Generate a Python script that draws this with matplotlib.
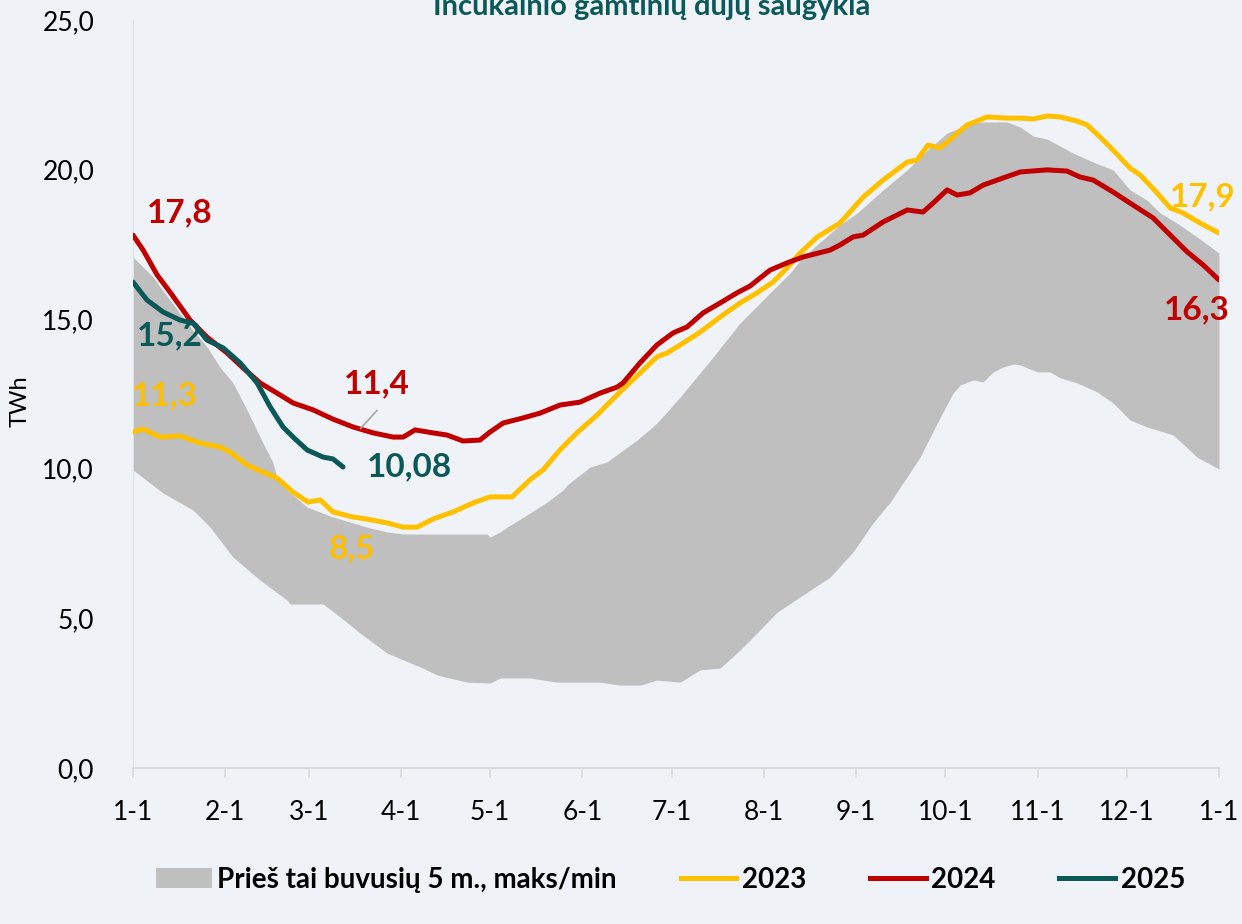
import matplotlib
matplotlib.use("Agg")
import matplotlib.pyplot as plt
import numpy as np
from matplotlib.ticker import FuncFormatter
from matplotlib.patches import Patch
from matplotlib.lines import Line2D

plt.rcParams['font.family'] = ['Lato', 'DejaVu Sans']

# day of year -> TWh
days_2023 = [0, 3.4, 9.1, 15.8, 22.5, 29.2, 32.6, 38.3, 42.7, 48.4, 53.8, 58.8, 62.9, 67.2,
             73.9, 78.7, 85.4, 90.8, 95.5, 100.8, 107.6, 114.3, 120, 127.4, 133.4, 137.8,
             143.5, 149.2, 156, 163.7, 170.4, 176.1, 179.5, 184.9, 190.6, 197.3, 204, 209.7,
             215.1, 219.8, 224.2, 230, 237.6, 245.4, 252.1, 260.2, 263.5, 267.2, 271.3, 275.6,
             280.3, 287.1, 293.8, 298.2, 302.5, 307.2, 311.6, 317.3, 320.7, 325, 329.4, 335.1,
             338.5, 344.2, 348.6, 352.9, 358.7, 365]
vals_2023 = [11.23, 11.33, 11.06, 11.10, 10.86, 10.73, 10.56, 10.13, 9.93, 9.69, 9.22, 8.89, 8.96, 8.56,
             8.39, 8.32, 8.19, 8.05, 8.05, 8.32, 8.56, 8.86, 9.06, 9.06, 9.63, 9.96,
             10.63, 11.20, 11.80, 12.57, 13.20, 13.74, 13.87, 14.20, 14.57, 15.07, 15.54, 15.88,
             16.24, 16.71, 17.21, 17.75, 18.21, 19.08, 19.65, 20.25, 20.32, 20.82, 20.72, 21.09,
             21.49, 21.76, 21.72, 21.72, 21.69, 21.79, 21.76, 21.62, 21.49, 21.09, 20.65, 20.05,
             19.82, 19.22, 18.72, 18.55, 18.21, 17.88]

days_2024 = [0, 3.4, 8.1, 12.4, 19.2, 24.9, 31.6, 37, 42.7, 48.4, 53.8, 60.5, 67.2, 73.9,
             80.7, 87.4, 90.8, 94.8, 100.8, 105.5, 110.9, 116.6, 120, 124.4, 131.1, 136.8,
             143.5, 150.3, 157, 162.7, 164.7, 170.4, 176.1, 181.5, 186.2, 191.6, 197.3, 203,
             207.4, 214.1, 219.8, 225.2, 234.3, 237.6, 242, 245.4, 252.1, 260.2, 265.5, 268.9,
             273.6, 277, 281.3, 285.7, 292.4, 298.2, 307.2, 313.9, 318.3, 322.7, 329.4, 335.1,
             342.9, 347.6, 354.3, 359.7, 365]
vals_2024 = [17.81, 17.31, 16.48, 15.91, 14.97, 14.40, 13.87, 13.37, 12.87, 12.53, 12.20, 11.97, 11.66, 11.40,
             11.20, 11.06, 11.06, 11.30, 11.20, 11.13, 10.93, 10.96, 11.23, 11.53, 11.70, 11.86,
             12.13, 12.23, 12.53, 12.73, 12.87, 13.54, 14.14, 14.54, 14.74, 15.21, 15.54, 15.88,
             16.11, 16.64, 16.88, 17.08, 17.31, 17.48, 17.75, 17.81, 18.25, 18.65, 18.58, 18.88,
             19.32, 19.15, 19.22, 19.48, 19.72, 19.92, 19.99, 19.95, 19.75, 19.65, 19.25, 18.88,
             18.38, 17.91, 17.25, 16.81, 16.31]

days_2025 = [0, 4.7, 10.1, 15.8, 20.2, 24.9, 30.3, 36, 41.7, 46.1, 50.4, 53.8, 58.5, 63.9, 67.2, 70.6]
vals_2025 = [16.24, 15.64, 15.24, 14.97, 14.87, 14.30, 14.04, 13.54, 12.87, 12.07, 11.40, 11.06,
             10.63, 10.39, 10.33, 10.06]

# previous 5 years max / min envelope
days_max = [0, 6.7, 12.4, 19.2, 24.9, 29.2, 33.6, 38.3, 42.7, 47.1, 48.4, 51.8, 58.5, 67.2,
            78.7, 85.4, 90.8, 119, 120, 123.4, 125.7, 133.4, 139.2, 144.5, 145.9, 153.6, 159.3,
            169.4, 176.1, 183.9, 195, 204, 214.1, 220.8, 225.2, 237.6, 243.4, 252.1, 260.2,
            266.9, 273.6, 280.3, 284.7, 293.8, 298.2, 302.5, 307.2, 316, 322.7, 329.4, 335.1,
            340.8, 345.2, 350.9, 357.6, 365]
vals_max = [17.08, 16.41, 15.64, 14.74, 14.07, 13.40, 12.87, 11.97, 11.06, 10.19, 9.69, 9.29, 8.72, 8.39,
            8.05, 7.89, 7.82, 7.82, 7.72, 7.89, 8.05, 8.52, 8.89, 9.29, 9.46, 10.06, 10.23,
            10.96, 11.53, 12.40, 13.74, 14.87, 15.88, 16.54, 17.08, 18.15, 18.55, 19.32, 19.99,
            20.65, 21.22, 21.49, 21.59, 21.59, 21.42, 21.12, 21.02, 20.55, 20.25, 19.99, 19.32,
            18.98, 18.55, 18.21, 17.75, 17.21]

days_min = [0, 10.1, 20.2, 25.9, 33.6, 42.7, 51.8, 52.8, 63.9, 69.6, 76.3, 85.4, 96.5, 102.2,
            112.3, 120, 123.4, 133.4, 142.5, 157, 163.7, 170.4, 176.1, 183.9, 190.6, 197.3,
            204, 209.7, 216.5, 224.2, 234.3, 242, 248.7, 254.5, 261.2, 264.5, 270.3, 275.6,
            278, 282.4, 285.7, 289.1, 292.4, 295.8, 298.2, 303.9, 308.2, 311.6, 317.3, 324,
            329.4, 335.1, 340.8, 349.6, 354.3, 357.6, 365]
vals_min = [9.96, 9.19, 8.62, 8.05, 7.05, 6.28, 5.61, 5.48, 5.48, 5.05, 4.51, 3.84, 3.38, 3.11,
            2.87, 2.84, 3.01, 3.01, 2.87, 2.87, 2.77, 2.77, 2.94, 2.87, 3.28, 3.34,
            3.94, 4.51, 5.21, 5.72, 6.38, 7.22, 8.19, 8.89, 9.89, 10.39, 11.53, 12.53,
            12.80, 12.97, 12.90, 13.24, 13.40, 13.50, 13.47, 13.24, 13.24, 13.04, 12.87, 12.57,
            12.20, 11.63, 11.40, 11.13, 10.70, 10.39, 9.99]

month_days = [0, 31, 59, 90, 120, 151, 181, 212, 243, 273, 304, 334, 365]
month_labels = ["1-1", "2-1", "3-1", "4-1", "5-1", "6-1", "7-1", "8-1", "9-1", "10-1", "11-1", "12-1", "1-1"]

BG = "#EFF3F7"
YELLOW = "#FFC000"
RED = "#C00000"
TEAL = "#0B5858"
GREY = "#BFBFBF"

fig = plt.figure(figsize=(12.42, 9.24), dpi=100, facecolor=BG)
ax = fig.add_axes([0.1071, 0.1688, 0.8744, 0.8096], facecolor=BG)

# envelope: fill between max and min on a common grid
grid = np.linspace(0, 365, 731)
up = np.interp(grid, days_max, vals_max)
lo = np.interp(grid, days_min, vals_min)
ax.fill_between(grid, lo, up, color=GREY, lw=0, zorder=1)

ax.plot(days_2023, vals_2023, color=YELLOW, lw=3.6, zorder=3, solid_capstyle="round")
ax.plot(days_2024, vals_2024, color=RED, lw=3.6, zorder=4, solid_capstyle="round")
ax.plot(days_2025, vals_2025, color=TEAL, lw=3.6, zorder=5, solid_capstyle="round")

ax.set_xlim(0, 365)
ax.set_ylim(0, 25)
ax.set_yticks([0, 5, 10, 15, 20, 25])
ax.yaxis.set_major_formatter(FuncFormatter(lambda v, p: f"{v:.1f}".replace(".", ",")))
ax.set_xticks(month_days)
ax.set_xticklabels(month_labels)

for s in ["top", "right"]:
    ax.spines[s].set_visible(False)
ax.spines["left"].set_color("#DDE1E6")
ax.spines["left"].set_linewidth(0.8)
ax.spines["bottom"].set_color("#D9D9D9")
ax.spines["bottom"].set_linewidth(1.5)
ax.tick_params(axis="y", length=0, pad=28, labelsize=19)
ax.tick_params(axis="x", length=7, width=1.2, color="#D9D9D9", pad=16, labelsize=19)
ax.set_ylabel("TWh", fontsize=17, labelpad=6)
ax.yaxis.set_label_coords(-0.094, 0.49)

fs = 24
ax.text(15.8, 18.55, "17,8", color=RED, fontsize=fs, fontweight="bold", ha="center", va="center")
ax.text(1.2, 14.45, "15,2", color=TEAL, fontsize=fs, fontweight="bold", ha="left", va="center", zorder=6)
ax.text(-0.5, 12.43, "11,3", color=YELLOW, fontsize=fs, fontweight="bold", ha="left", va="center")
ax.text(82, 12.83, "11,4", color=RED, fontsize=fs, fontweight="bold", ha="center", va="center")
ax.plot([82, 76.5], [11.95, 11.35], color="#A6A6A6", lw=1.2, zorder=6)
ax.text(78.5, 10.06, "10,08", color=TEAL, fontsize=fs, fontweight="bold", ha="left", va="center")
ax.text(73.6, 7.32, "8,5", color=YELLOW, fontsize=fs, fontweight="bold", ha="center", va="center")
ax.text(359.5, 19.1, "17,9", color=YELLOW, fontsize=fs, fontweight="bold", ha="center", va="center", clip_on=False)
ax.text(357.5, 15.3, "16,3", color=RED, fontsize=fs, fontweight="bold", ha="center", va="center", clip_on=False)

fig.text(0.525, 0.984, "Inčukalnio gamtinių dujų saugykla", color=TEAL, fontsize=21,
         fontweight="bold", ha="center", va="baseline")

handles = [Patch(facecolor=GREY, edgecolor="none"),
           Line2D([], [], color=YELLOW, lw=3.6),
           Line2D([], [], color=RED, lw=3.6),
           Line2D([], [], color=TEAL, lw=3.6)]
labels = ["Prieš tai buvusių 5 m., maks/min", "2023", "2024", "2025"]
leg = fig.legend(handles, labels, loc="center", bbox_to_anchor=(0.54, 0.048), ncol=4,
                 frameon=False, prop={"size": 20, "weight": "bold"},
                 handlelength=2.0, handletextpad=0.2, columnspacing=2.3)

fig.savefig("out.png", dpi=100, facecolor=BG)
